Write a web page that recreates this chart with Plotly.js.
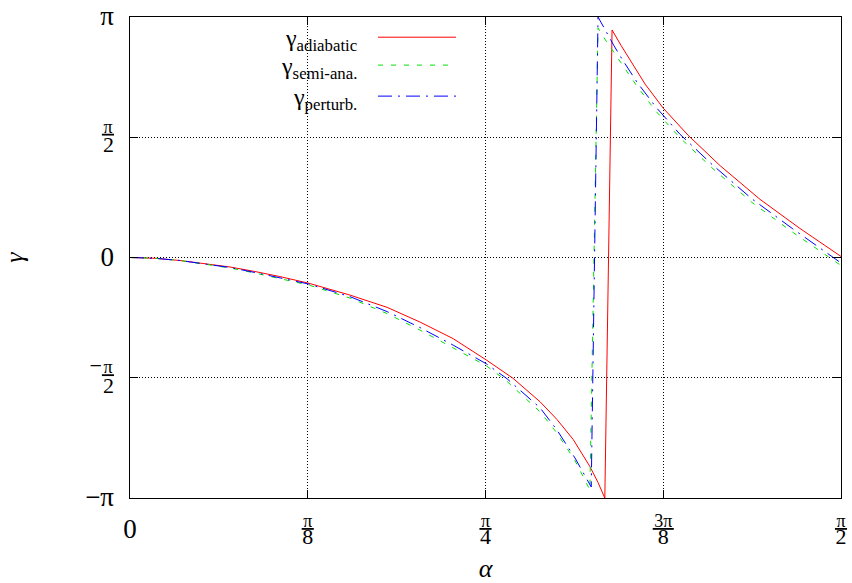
<!DOCTYPE html>
<html>
<head>
<meta charset="utf-8">
<script src="https://cdn.plot.ly/plotly-3.0.1.min.js"></script>
<style>html,body{margin:0;padding:0;background:#fff;}#chart{width:852px;height:583px;}</style>
</head>
<body>
<div id="chart"></div>
<script>
// ---- data (radians) ----
const adiabaticAlpha = [0, 0.055, 0.110, 0.166, 0.221, 0.276, 0.331, 0.395, 0.486, 0.568, 0.641, 0.714, 0.787, 0.846, 0.906, 0.943, 0.979, 1.016, 1.034, 1.049, 1.065, 1.085, 1.105, 1.138, 1.178, 1.233, 1.304, 1.392, 1.480, 1.571];
const adiabaticGamma = [0, -0.010, -0.039, -0.079, -0.124, -0.183, -0.249, -0.336, -0.491, -0.651, -0.844, -1.060, -1.338, -1.577, -1.885, -2.114, -2.376, -2.730, -2.939, -3.142, 2.972, 2.769, 2.579, 2.265, 1.951, 1.597, 1.198, 0.759, 0.380, 0.013];

const semiAlpha = [0, 0.055, 0.110, 0.166, 0.221, 0.276, 0.331, 0.395, 0.486, 0.568, 0.641, 0.714, 0.787, 0.829, 0.906, 0.943, 0.983, 1.016, 1.034, 1.049, 1.069, 1.087, 1.120, 1.162, 1.215, 1.288, 1.374, 1.463, 1.571];
const semiGamma = [0, -0.010, -0.039, -0.085, -0.137, -0.203, -0.275, -0.360, -0.530, -0.733, -0.949, -1.185, -1.414, -1.597, -2.016, -2.291, -2.651, -3.037, 2.998, 2.854, 2.684, 2.533, 2.238, 1.911, 1.564, 1.159, 0.720, 0.334, -0.105];

const perturbAlpha = [0, 0.055, 0.110, 0.166, 0.221, 0.276, 0.331, 0.395, 0.486, 0.568, 0.641, 0.714, 0.787, 0.833, 0.906, 0.943, 0.983, 1.019, 1.034, 1.049, 1.069, 1.087, 1.120, 1.162, 1.215, 1.288, 1.374, 1.463, 1.571];
const perturbGamma = [0, -0.010, -0.039, -0.082, -0.131, -0.196, -0.262, -0.347, -0.511, -0.707, -0.916, -1.145, -1.388, -1.584, -1.964, -2.251, -2.618, -2.998, 3.142, 2.978, 2.769, 2.592, 2.291, 1.964, 1.610, 1.204, 0.766, 0.380, -0.072];

const seriesLabels = ['γ<sub>adiabatic</sub>', 'γ<sub>semi-ana.</sub>', 'γ<sub>perturb.</sub>'];
const seriesColors = ['#ff0000', '#00e000', '#0000ff'];
const seriesDashes = ['solid', '5px,8px', '14px,6px,2px,6px'];

const NUM = s => '<u><span style="font-size:18px">\u200A' + s + '\u200A</span></u>';
const DEN = (s, shift) => '<span style="font-size:22px;baseline-shift:' + shift + 'px">' + s + '</span>';
const BIG = (s, shift) => '<span style="font-size:27px;baseline-shift:' + shift + 'px">' + s + '</span>';

const xTickVals = [0, Math.PI / 8, Math.PI / 4, 3 * Math.PI / 8, Math.PI / 2];
const xTickText = [BIG('0', -11), NUM('π') + '<br>' + DEN('8', 3), NUM('π') + '<br>' + DEN('4', 3), NUM('3π') + '<br>' + DEN('8', 3), NUM('π') + '<br>' + DEN('2', 3)];
const yTickVals = [-Math.PI, -Math.PI / 2, 0, Math.PI / 2, Math.PI];
const yTickText = [BIG('−π', -3), '<span style="font-size:22px">−</span>' + NUM('π') + '<br>' + DEN('2', 0), BIG('0', -3), NUM('π') + '<br>' + DEN('2', 0), BIG('π', -3)];

const FONT = "'Liberation Serif', 'DejaVu Serif', serif";

const xs = [adiabaticAlpha, semiAlpha, perturbAlpha];
const ys = [adiabaticGamma, semiGamma, perturbGamma];

const traces = xs.map((x, i) => ({
  type: 'scatter', mode: 'lines', x: x, y: ys[i], name: seriesLabels[i],
  line: {color: seriesColors[i], width: 1, dash: seriesDashes[i]},
  showlegend: false, hoverinfo: 'skip'
}));

// custom legend (text left, sample line right), in paper coordinates
const legendRowsY = [0.952, 0.894, 0.8295];
const annotations = seriesLabels.map((t, i) => ({
  xref: 'paper', yref: 'paper', x: 0.322, y: legendRowsY[i],
  xanchor: 'right', yanchor: 'middle', showarrow: false,
  text: t, font: {family: FONT, size: 24, color: '#000'}
}));
const shapes = seriesLabels.map((t, i) => ({
  type: 'line', xref: 'paper', yref: 'paper',
  x0: 0.3488, x1: 0.4585, y0: legendRowsY[i] + 0.006, y1: legendRowsY[i] + 0.006,
  line: {color: seriesColors[i], width: 1, dash: seriesDashes[i]}
}));

const axisCommon = {
  showline: true, linecolor: '#000', linewidth: 1, mirror: 'ticks',
  ticks: 'inside', ticklen: 8, tickcolor: '#000', tickwidth: 1,
  showgrid: true, gridcolor: '#000', gridwidth: 1, griddash: '1px,2px',
  zeroline: false, tickmode: 'array', ticklabeloverflow: 'allow',
  tickfont: {family: FONT, size: 15, color: '#000'}
};

const layout = {
  width: 852, height: 583,
  margin: {l: 130, r: 11, t: 17, b: 85},
  paper_bgcolor: '#fff', plot_bgcolor: '#fff',
  font: {family: FONT, color: '#000'},
  xaxis: Object.assign({}, axisCommon, {
    range: [0, Math.PI / 2], tickvals: xTickVals, ticktext: xTickText,
    ticklabelstandoff: 10,
    title: {text: '<i>α</i>', font: {family: FONT, size: 26, color: '#000'}, standoff: 14}
  }),
  yaxis: Object.assign({}, axisCommon, {
    range: [-Math.PI, Math.PI], tickvals: yTickVals, ticktext: yTickText,
    ticklabelstandoff: 12,
    title: {text: '<i>γ</i>', font: {family: FONT, size: 26, color: '#000'}, standoff: 60}
  }),
  annotations: annotations,
  shapes: shapes,
  showlegend: false
};

Plotly.newPlot('chart', traces, layout, {displayModeBar: false, staticPlot: true});
</script>
</body>
</html>
